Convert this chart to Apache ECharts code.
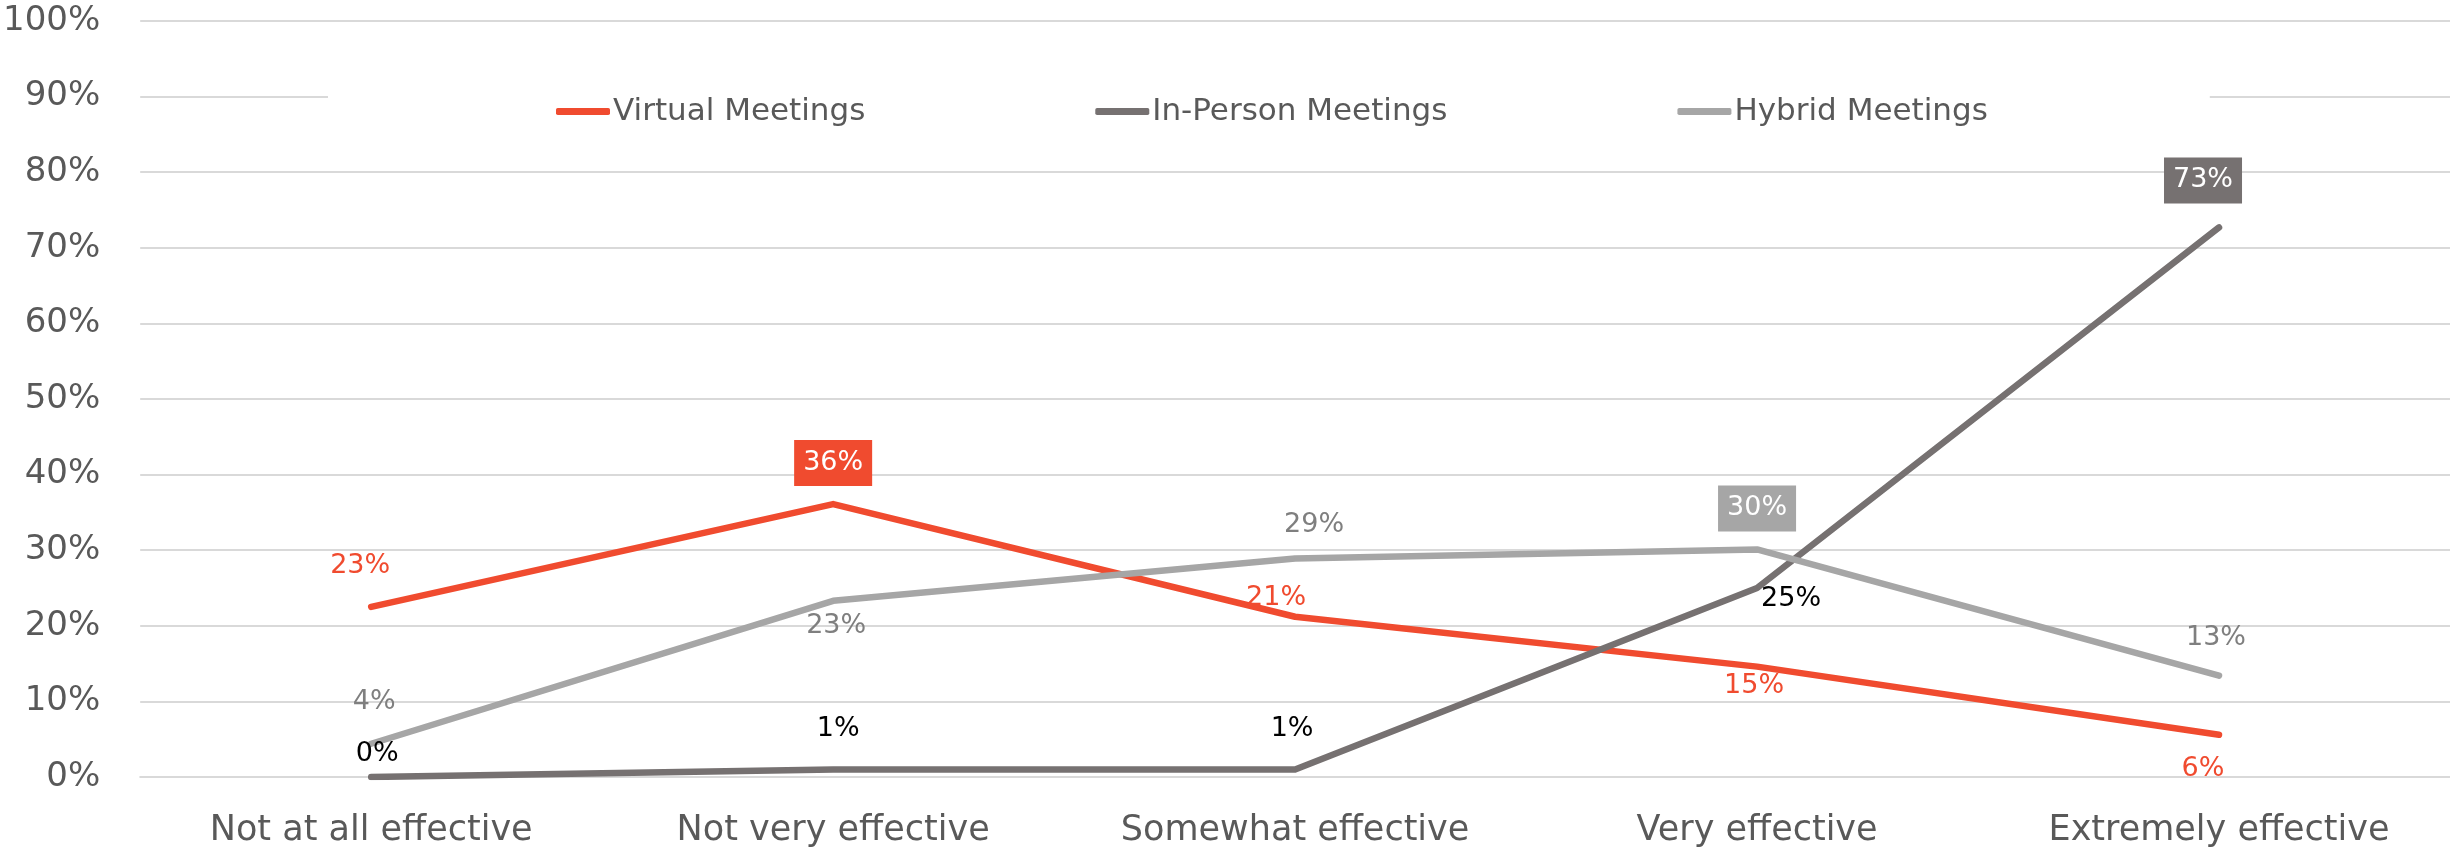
<!DOCTYPE html>
<html>
<head>
<meta charset="utf-8">
<script src="https://cdn.jsdelivr.net/npm/echarts@6/dist/echarts.min.js"></script>
<style>
  html, body { margin: 0; padding: 0; background: #fff; }
  #chart { width: 2450px; height: 848px; }
</style>
</head>
<body>
<div id="chart"></div>
<script type="text/javascript">
  // categories and values
  var categories = ['Not at all effective', 'Not very effective', 'Somewhat effective', 'Very effective', 'Extremely effective'];
  var virtualMeetings = [22.5, 36.1, 21.2, 14.6, 5.6];
  var inPersonMeetings = [0, 1.0, 1.0, 25.0, 72.7];
  var hybridMeetings = [4.4, 23.3, 28.9, 30.1, 13.4];
  var yTicks = [0, 10, 20, 30, 40, 50, 60, 70, 80, 90, 100];

  var red = '#F04B2F';
  var darkGray = '#767171';
  var lightGray = '#A6A6A6';
  var font = 'DejaVu Sans';

  // label offsets (label centre relative to the point), boxed = highlighted value
  var virtualLabels = [[-11, -41], [0, -41, true], [-19, -19], [-3, 19], [-16, 34]];
  var inPersonLabels = [[6, -23], [5, -40], [-3, -40], [34, 11], [-16, -47, true]];
  var hybridLabels = [[3, -42], [3, 25], [19, -34], [0, -41, true], [-3, -38]];

  function buildData(values, placements, textColor, boxColor) {
    return values.map(function (v, i) {
      var p = placements[i];
      var label = {
        show: true,
        position: 'inside',
        offset: [p[0], p[1]],
        formatter: function (o) { return Math.round(o.value) + '%'; },
        color: textColor,
        fontFamily: font,
        fontSize: 27
      };
      if (p[2]) {
        label.color = '#fff';
        label.backgroundColor = boxColor;
        label.padding = [10, 9, 9, 9];
      }
      return { value: v, label: label };
    });
  }

  function lineSeries(name, values, color, placements, textColor) {
    return {
      name: name,
      type: 'line',
      data: buildData(values, placements, textColor, color),
      symbol: 'circle',
      symbolSize: 1,
      itemStyle: { color: color },
      lineStyle: { color: color, width: 6.5, cap: 'round', join: 'round' },
      emphasis: { disabled: true },
      animation: false
    };
  }

  var chart = echarts.init(document.getElementById('chart'));
  var option = {
    animation: false,
    grid: { left: 137, right: 0, top: 21, bottom: 70, containLabel: false },
    legend: {
      data: ['Virtual Meetings', 'In-Person Meetings', 'Hybrid Meetings'],
      left: 328,
      top: 82,
      padding: [14, 222, 14, 228],
      backgroundColor: '#fff',
      itemGap: 230,
      itemWidth: 54,
      itemHeight: 7,
      icon: 'roundRect',
      textStyle: { color: '#595959', fontFamily: font, fontSize: 31, padding: [0, 0, 0, -2] }
    },
    xAxis: {
      type: 'category',
      data: categories,
      boundaryGap: true,
      axisLine: { show: true, lineStyle: { color: '#D9D9D9', width: 2 } },
      axisTick: { show: false },
      axisLabel: { color: '#595959', fontFamily: font, fontSize: 35, margin: 36 }
    },
    yAxis: {
      type: 'value',
      min: yTicks[0],
      max: yTicks[yTicks.length - 1],
      interval: yTicks[1] - yTicks[0],
      axisLine: { show: false },
      axisTick: { show: false },
      axisLabel: { color: '#595959', fontFamily: font, fontSize: 34, margin: 40, formatter: '{value}%' },
      splitLine: { lineStyle: { color: '#D9D9D9', width: 2 } }
    },
    series: [
      lineSeries('Virtual Meetings', virtualMeetings, red, virtualLabels, red),
      lineSeries('In-Person Meetings', inPersonMeetings, darkGray, inPersonLabels, '#000'),
      lineSeries('Hybrid Meetings', hybridMeetings, lightGray, hybridLabels, '#7F7F7F')
    ]
  };
  chart.setOption(option);
</script>
</body>
</html>
